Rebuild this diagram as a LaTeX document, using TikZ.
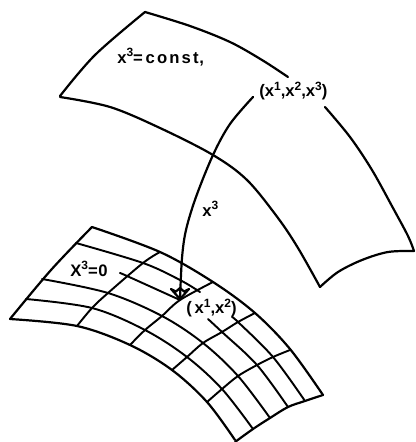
\documentclass[tikz,border=0pt]{standalone}
\usepackage{fontspec}
\setmainfont{Liberation Sans}[BoldFont={Liberation Sans Bold}]
\newcommand{\supn}[1]{\raisebox{0.4em}{\fontsize{9}{9}\selectfont #1}}
\tikzset{
  x=0.75pt,y=-0.75pt,
  ink/.style={line width=1.65pt,black,line cap=round,line join=round},
  thin ink/.style={line width=1.45pt,black,line cap=round,line join=round},
  lab/.style={inner sep=0pt,font=\fontsize{12.5}{13}\selectfont\bfseries},
  crv/.style={smooth,tension=0.55}
}
\newcommand{\curveink}[2][ink]{\draw[#1] plot[crv] coordinates {#2};}
\begin{document}
\begin{tikzpicture}
\path[use as bounding box] (0,0) rectangle (415,442);
\clip (0,0) rectangle (415,442);
% upper sheet
\curveink{(60,96)(95,55)(145,12)}
\curveink{(145,12)(190,26)(230,42)(262,60)(288,77)}
\curveink{(325,107)(350,137)(372,170)(393,208)(408,236)(414,251)}
\curveink{(414,251)(388,252)(362,260)(338,272)(320,287)}
\curveink{(60,97)(110,107)(160,128)(213,155)(247,180)(278,218)(298,248)(320,287)}
% lower sheet outline
\curveink{(92,227)(51,270)(10,319)}
\curveink{(92,227)(160,252)(213,282)(255,313)(290,349)(323,395)}
\curveink{(323,395)(305,401)(288,407)(270,418)(253,429)(235,442)}
\curveink{(10,319)(77,326)(130,345)(172,370)(207,402)(235,440)}
% longitudinal lines
\curveink[thin ink]{(76,243)(143,263)(180,280)(200,292)}
\curveink[thin ink]{(232,317)(238,322)(273,357)(305,401)}
\curveink[thin ink]{(120,273)(127,276)(180,300)}
\curveink[thin ink]{(208,319)(222,332)(257,365)(288,407)}
\curveink[thin ink]{(42,279)(108,293)(162,316)(203,343)(238,376)(270,418)}
\curveink[thin ink]{(26,299)(92,308)(145,330)(187,357)(222,389)(253,429)}
% cross lines
\curveink[thin ink]{(160,252)(143,263)(108,293)(92,308)(77,326)}
\curveink[thin ink]{(213,282)(180,300)(162,316)(145,330)(130,345)}
\curveink[thin ink]{(255,313)(238,322)(222,332)(203,343)(187,357)(172,370)}
\curveink[thin ink]{(290,350)(273,357)(257,365)(238,376)(222,389)(207,402)}
% connector
\coordinate (start) at (253,97);
\coordinate (tip) at (180,299);
\draw[ink] plot[crv] coordinates {(start)(230,124)(213,155)(196,197)(186,230)(182,258)(tip)};
\draw[ink] (171,289) -- (176,291.5) -- (180,288) -- (184,291.5) -- (189,289) -- (tip) -- cycle;
% labels
\node[lab,anchor=west] (sheet) at (117,57) {x\supn{3}=\,c\kern1.6pt o\kern1.6pt n\kern1.6pt s\kern1.6pt t\kern0.5pt,};
\node[lab,anchor=west] (point3) at (259,91) {(x\supn{1},x\supn{2},x\supn{3})};
\node[lab,anchor=west] (height) at (202,209) {x\supn{3}};
\node[lab,anchor=west] (base) at (70,269) {X\supn{3}=\kern0.5pt 0};
\node[lab,anchor=west] (point2) at (186,308) {(\,x\supn{1},x\supn{2})};
\end{tikzpicture}
\end{document}
